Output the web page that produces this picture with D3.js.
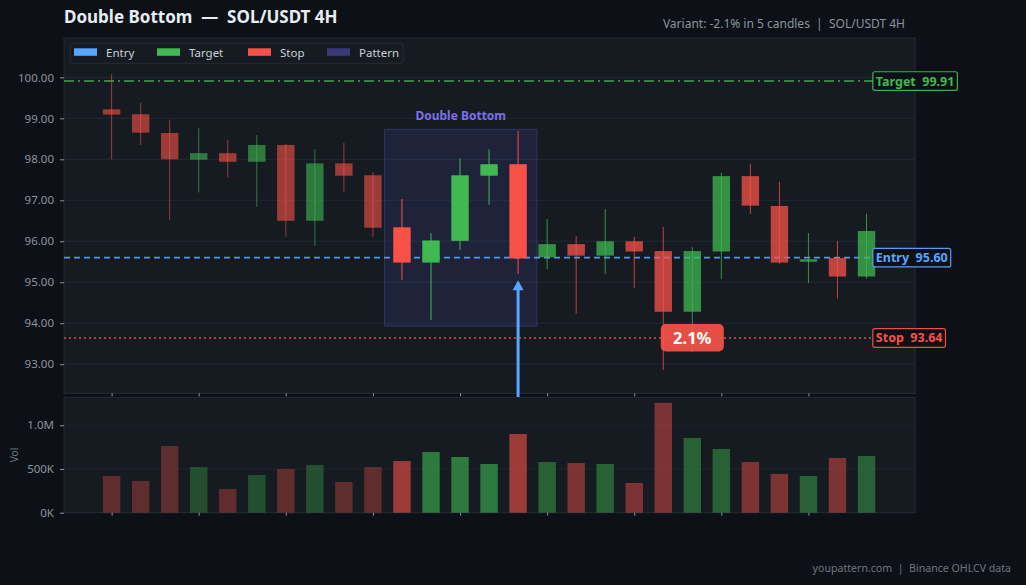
<!DOCTYPE html>
<html><head><meta charset="utf-8">
<script src="https://cdn.jsdelivr.net/npm/d3@7/dist/d3.min.js"></script>
<style>
html,body{margin:0;padding:0;background:#0d1117;}
svg{display:block;font-family:"Noto Sans",sans-serif;}
svg text{white-space:pre;}
</style></head>
<body>
<svg id="chart" width="1026" height="585"></svg>
<script>
// ---- data ----
const opens  = [99.22,99.10,98.64,97.99,98.15,97.94,98.35,96.50,97.90,97.61,96.34,95.48,96.01,97.60,97.88,95.61,95.93,95.65,96.00,95.76,94.28,95.75,97.59,96.86,95.50,95.59,95.14];
const highs  = [100.08,99.38,98.96,98.76,98.47,98.59,98.38,98.25,98.40,97.69,97.03,96.20,98.02,98.24,98.69,96.54,96.13,96.79,96.11,96.35,95.86,97.67,97.89,97.45,96.20,96.01,96.67];
const lows   = [98.00,98.35,96.52,97.19,97.55,96.84,96.11,95.89,97.21,96.11,95.06,94.08,95.79,96.89,95.20,95.32,94.23,95.20,94.86,92.86,93.30,95.08,96.67,95.45,94.98,94.60,95.09];
const closes = [99.09,98.65,98.00,98.15,97.94,98.35,96.50,97.90,97.60,96.33,95.48,96.02,97.61,97.88,95.58,95.93,95.65,96.00,95.75,94.28,95.76,97.59,96.87,95.48,95.56,95.14,96.25];
const volumes = [420000,363000,763000,523000,271000,431000,500000,546000,351000,523000,591000,694000,637000,557000,900000,580000,569000,557000,340000,1256000,855000,729000,580000,443000,420000,626000,649000];
const priceTicks = [93,94,95,96,97,98,99,100];
const volTicks = [0,500000,1000000];
const xTicks = [0,3,6,9,12,15,18,21,24];
const patternStart = 10, patternEnd = 14;
const entry = 95.60, target = 99.91, stop = 93.64;
const patternBox = {x0: 9.4, x1: 14.65, low: 93.93, high: 98.73};
const arrowIndex = 14, arrowTip = 95.05, arrowTail = 92.2;
const moveLabel = "2.1%", moveIndex = 20;
const legendItems = [
  {label:"Entry", color:"#58a6ff"},
  {label:"Target", color:"#3fb950"},
  {label:"Stop", color:"#f85149"},
  {label:"Pattern", color:"#3b3a78"}
];
const titleText = "Double Bottom  —  SOL/USDT 4H";
const subtitleText = "Variant: -2.1% in 5 candles  |  SOL/USDT 4H";
const footerText = "youpattern.com  |  Binance OHLCV data";

// ---- layout ----
const svg = d3.select("#chart");
const W = 1026, H = 585;
const L = 64, R = 915;
const mainTop = 38, mainBot = 393.3;
const volTop = 397.3, volBot = 512.7;
const UP = "#3fb950", DN = "#f85149";

svg.append("rect").attr("width",W).attr("height",H).attr("fill","#0d1117");

const x = d3.scaleLinear().domain([-1.64, 27.67]).range([L, R]);
const y = d3.scaleLinear().domain([92.29, 100.96]).range([mainBot, mainTop]);
const yv = d3.scaleLinear().domain([0, 1320000]).range([volBot, volTop]);
const step = x(1) - x(0);
const bw = step * 0.6;

// panels
svg.append("rect").attr("x",L).attr("y",mainTop).attr("width",R-L).attr("height",mainBot-mainTop)
  .attr("fill","#161b22").attr("stroke","#262c35").attr("stroke-width",1);
svg.append("rect").attr("x",L).attr("y",volTop).attr("width",R-L).attr("height",volBot-volTop)
  .attr("fill","#161b22").attr("stroke","#262c35").attr("stroke-width",1);

// grid
svg.append("g").selectAll("line").data(priceTicks).join("line")
  .attr("x1",L).attr("x2",R).attr("y1",d=>y(d)).attr("y2",d=>y(d))
  .attr("stroke","#222833").attr("stroke-width",1);
svg.append("g").selectAll("line").data(volTicks.slice(1)).join("line")
  .attr("x1",L).attr("x2",R).attr("y1",d=>yv(d)).attr("y2",d=>yv(d))
  .attr("stroke","#1e242d").attr("stroke-width",1);

// axes
function styleAxis(g){
  g.select(".domain").remove();
  g.selectAll(".tick line").attr("stroke","#8b949e");
  g.selectAll(".tick text").attr("fill","#8b949e").style("font-size","11.5px").style("font-family","Noto Sans");
}
svg.append("g").attr("transform",`translate(${L},0)`)
  .call(d3.axisLeft(y).tickValues(priceTicks).tickFormat(d3.format(".2f")).tickSize(4).tickPadding(6))
  .call(styleAxis);
svg.append("g").attr("transform",`translate(${L},0)`)
  .call(d3.axisLeft(yv).tickValues(volTicks).tickFormat(d=>d===0?"0K":(d>=1e6?(d/1e6).toFixed(1)+"M":(d/1e3)+"K")).tickSize(4).tickPadding(6))
  .call(styleAxis);
svg.append("g").attr("transform",`translate(0,${mainBot})`)
  .call(d3.axisBottom(x).tickValues(xTicks).tickFormat("").tickSize(3))
  .call(styleAxis);
svg.append("g").attr("transform",`translate(0,${volBot})`)
  .call(d3.axisBottom(x).tickValues(xTicks).tickFormat("").tickSize(3))
  .call(styleAxis);

// candle data
const candles = opens.map((o,i)=>({i,o,h:highs[i],l:lows[i],c:closes[i],v:volumes[i]}));
const phase = i => i < patternStart ? 0 : (i <= patternEnd ? 1 : 2);
const candleAlpha = [0.6, 1.0, 0.75];
const volAlpha = [0.33, 0.6, 0.45];

// pattern box
svg.append("rect")
  .attr("x",x(patternBox.x0)).attr("y",y(patternBox.high))
  .attr("width",x(patternBox.x1)-x(patternBox.x0)).attr("height",y(patternBox.low)-y(patternBox.high))
  .attr("fill","rgba(99,102,241,0.12)").attr("stroke","rgba(99,102,241,0.25)").attr("stroke-width",1.2);
svg.append("text").attr("x",(x(patternBox.x0)+x(patternBox.x1))/2).attr("y",y(patternBox.high)-9.5)
  .attr("text-anchor","middle").attr("fill","#7c6ff0").style("font-size","12px").style("font-weight","bold")
  .text("Double Bottom");

// level lines
const levels = [
  {v:target, color:"#3fb950", dash:"10,4,2,4", label:"Target  "+target.toFixed(2)},
  {v:entry, color:"#58a6ff", dash:"6,4", label:"Entry  "+entry.toFixed(2)},
  {v:stop, color:"#f85149", dash:"2,3", label:"Stop  "+stop.toFixed(2)}
];
svg.append("g").selectAll("line").data(levels).join("line")
  .attr("x1",L).attr("x2",R).attr("y1",d=>y(d.v)).attr("y2",d=>y(d.v))
  .attr("stroke",d=>d.color).attr("stroke-width",1.6).attr("stroke-dasharray",d=>d.dash).attr("opacity",0.9);

// candles
const cg = svg.append("g");
cg.selectAll("line").data(candles).join("line")
  .attr("x1",d=>x(d.i)).attr("x2",d=>x(d.i)).attr("y1",d=>y(d.h)).attr("y2",d=>y(d.l))
  .attr("stroke",d=>d.c>=d.o?UP:DN).attr("stroke-width",1).attr("opacity",d=>candleAlpha[phase(d.i)]);
cg.selectAll("rect").data(candles).join("rect")
  .attr("x",d=>x(d.i)-bw/2).attr("width",bw)
  .attr("y",d=>y(Math.max(d.o,d.c)))
  .attr("height",d=>Math.max(1.5, Math.abs(y(d.o)-y(d.c))))
  .attr("fill",d=>d.c>=d.o?UP:DN).attr("opacity",d=>candleAlpha[phase(d.i)]);

// volume bars
svg.append("g").selectAll("rect").data(candles).join("rect")
  .attr("x",d=>x(d.i)-bw/2).attr("width",bw)
  .attr("y",d=>yv(d.v)).attr("height",d=>yv(0)-yv(d.v))
  .attr("fill",d=>d.c>=d.o?UP:DN).attr("opacity",d=>volAlpha[phase(d.i)]);

// arrow
const ax = x(arrowIndex), tipY = y(arrowTip), tailY = y(arrowTail);
svg.append("line").attr("x1",ax).attr("x2",ax).attr("y1",tailY).attr("y2",tipY+8)
  .attr("stroke","#58a6ff").attr("stroke-width",3);
svg.append("path").attr("d",`M${ax},${tipY} L${ax-5.5},${tipY+10} L${ax+5.5},${tipY+10} Z`).attr("fill","#58a6ff");

// 2.1% badge
const bx = x(moveIndex), by = y(stop);
svg.append("rect").attr("x",bx-31.5).attr("y",by-14).attr("width",63).attr("height",27.5).attr("rx",5)
  .attr("fill","#f85149").attr("opacity",0.92);
svg.append("text").attr("x",bx).attr("y",by+6).attr("text-anchor","middle").attr("fill","#ffffff")
  .style("font-size","16.5px").style("font-weight","bold").text(moveLabel);

// right labels
const lg = svg.append("g");
levels.forEach(d=>{
  const t = lg.append("text").attr("x",x(26.2)+3.5).attr("y",y(d.v)+4.5).attr("fill",d.color)
    .style("font-size","12.5px").style("font-weight","bold").text(d.label);
  const bb = t.node().getBBox();
  lg.insert("rect","text").attr("x",bb.x-3).attr("y",y(d.v)-9.3).attr("width",bb.width+6).attr("height",18.6)
    .attr("rx",2).attr("fill","#0d1117").attr("stroke",d.color).attr("stroke-width",1.2).attr("opacity",0.95);
});
lg.selectAll("text").raise();

// legend
const leg = svg.append("g");
leg.append("rect").attr("x",70).attr("y",43.3).attr("width",333).attr("height",20).attr("rx",2)
  .attr("fill","#161b22").attr("stroke","#262c35");
const legX = [74, 157, 248, 327];
legendItems.forEach((d,k)=>{
  leg.append("rect").attr("x",legX[k]).attr("y",48.3).attr("width",23).attr("height",7.5).attr("fill",d.color);
  leg.append("text").attr("x",legX[k]+32).attr("y",57).attr("fill","#c9d1d9").style("font-size","11.5px").text(d.label);
});

// titles
svg.append("text").attr("x",64).attr("y",23.3).attr("fill","#e6edf3").style("font-size","17px").style("font-weight","bold").text(titleText);
svg.append("text").attr("x",905).attr("y",28).attr("text-anchor","end").attr("fill","#8b949e").style("font-size","12px").text(subtitleText);
svg.append("text").attr("x",1011).attr("y",571.5).attr("text-anchor","end").attr("fill","#6e7681").style("font-size","10.6px").text(footerText);
svg.append("text").attr("transform",`translate(18,${(volTop+volBot)/2}) rotate(-90)`).attr("text-anchor","middle")
  .attr("fill","#6e7681").style("font-size","10px").text("Vol");
</script>
</body></html>
